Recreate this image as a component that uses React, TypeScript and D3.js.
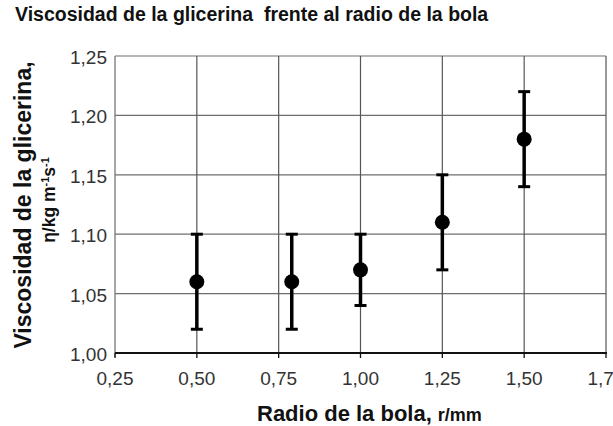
import React from "react";
import * as d3 from "d3";

const radius = [0.5, 0.79, 1.0, 1.25, 1.5];
const viscosity = [1.06, 1.06, 1.07, 1.11, 1.18];
const errLow = [1.02, 1.02, 1.04, 1.07, 1.14];
const errHigh = [1.1, 1.1, 1.1, 1.15, 1.22];
const xTicks = [0.25, 0.5, 0.75, 1.0, 1.25, 1.5, 1.75];
const yTicks = [1.0, 1.05, 1.1, 1.15, 1.2, 1.25];

const W = 613, H = 426;
const L = 115, R = 606, T = 56, B = 353;

export default function App() {
  const x = d3.scaleLinear().domain([0.25, 1.75]).range([L, R]);
  const y = d3.scaleLinear().domain([1.0, 1.25]).range([B, T]);
  const fmt = (v: number) => d3.format(".2f")(v).replace(".", ",");
  const font = "Arial, 'Liberation Sans', sans-serif";
  return (
    <svg width={W} height={H} style={{ position: "absolute", left: 0, top: 0, background: "#fff" }} fontFamily={font}>
      <rect x={0} y={0} width={W} height={H} fill="#fff" />
      <text x={15} y={21} fontSize={19.5} fontWeight="bold" fill="#111" style={{ whiteSpace: "pre" }}>
        {"Viscosidad de la glicerina  frente al radio de la bola"}
      </text>
      {/* horizontal gridlines */}
      {yTicks.map((t) => (
        <line key={"h" + t} x1={L} x2={R} y1={y(t)} y2={y(t)} stroke="#6e6e6e" strokeWidth={1.2} />
      ))}
      {/* vertical gridlines */}
      {xTicks.slice(1).map((t) => (
        <line key={"v" + t} x1={x(t)} x2={x(t)} y1={T} y2={B} stroke="#555" strokeWidth={1.2} />
      ))}
      {/* left axis */}
      <line x1={L} x2={L} y1={T} y2={B + 4} stroke="#777" strokeWidth={1.3} />
      {/* bottom axis */}
      <line x1={L} x2={R + 1} y1={B} y2={B} stroke="#111" strokeWidth={2} />
      {xTicks.map((t) => (
        <line key={"xt" + t} x1={x(t)} x2={x(t)} y1={B} y2={B + 5} stroke="#111" strokeWidth={1.3} />
      ))}
      {yTicks.map((t) => (
        <text key={"yl" + t} x={L - 8} y={y(t) + 8} fontSize={19} textAnchor="end" fill="#333">
          {fmt(t)}
        </text>
      ))}
      {xTicks.map((t) => (
        <text key={"xl" + t} x={x(t)} y={385} fontSize={19} textAnchor="middle" fill="#333">
          {fmt(t)}
        </text>
      ))}
      {/* error bars and points */}
      {radius.map((r, i) => (
        <g key={"p" + i}>
          <line x1={x(r)} x2={x(r)} y1={y(errLow[i])} y2={y(errHigh[i])} stroke="#000" strokeWidth={3.5} />
          <line x1={x(r) - 6} x2={x(r) + 6} y1={y(errLow[i])} y2={y(errLow[i])} stroke="#000" strokeWidth={3} />
          <line x1={x(r) - 6} x2={x(r) + 6} y1={y(errHigh[i])} y2={y(errHigh[i])} stroke="#000" strokeWidth={3} />
          <circle cx={x(r)} cy={y(viscosity[i])} r={7.5} fill="#000" />
        </g>
      ))}
      {/* axis titles */}
      <text x={257} y={421} fontSize={22} fontWeight="bold" fill="#111">
        Radio de la bola,<tspan dx={6} fontSize={18}>r/mm</tspan>
      </text>
      <text transform={`translate(31,205) rotate(-90)`} fontSize={23} fontWeight="bold" textAnchor="middle" fill="#111">
        Viscosidad de la glicerina,
      </text>
      <text transform={`translate(55,200) rotate(-90)`} fontSize={17.5} fontWeight="bold" textAnchor="middle" fill="#111">
        η/kg m<tspan dy={-6} fontSize={11}>-1</tspan><tspan dy={6}>s</tspan><tspan dy={-6} fontSize={11}>-1</tspan>
      </text>
    </svg>
  );
}
